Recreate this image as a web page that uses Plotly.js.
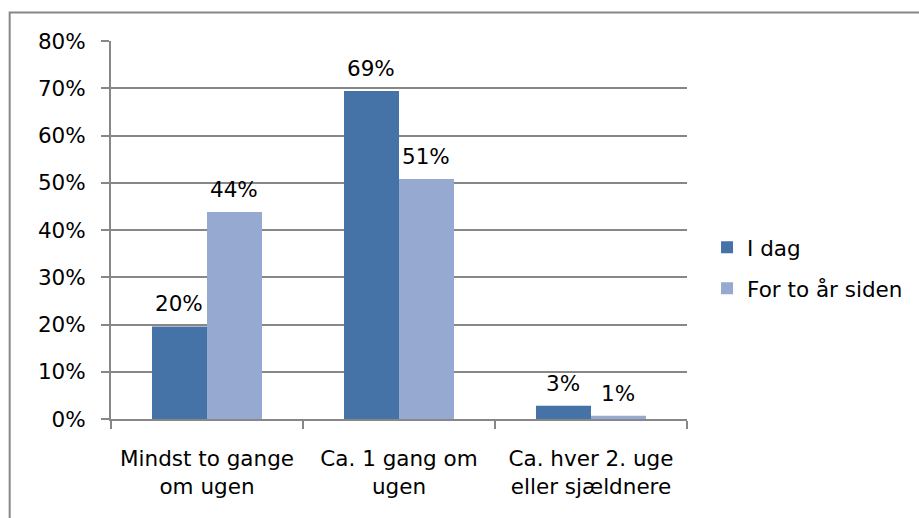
<!DOCTYPE html>
<html>
<head>
<meta charset="utf-8">
<script src="https://cdn.plot.ly/plotly-3.0.1.min.js"></script>
<style>html,body{margin:0;padding:0;background:#fff;}#chart{width:919px;height:518px;}</style>
</head>
<body>
<div id="chart"></div>
<script>
const categories = ["Mindst to gange<br>om ugen", "Ca. 1 gang om<br>ugen", "Ca. hver 2. uge<br>eller sjældnere"];
const seriesNames = ["I dag", "For to år siden"];
const iDag = [0.196, 0.694, 0.028];
const forToAar = [0.438, 0.508, 0.007];
const yTickVals = [0, 0.1, 0.2, 0.3, 0.4, 0.5, 0.6, 0.7, 0.8];
const colors = ["#4572A7", "#95A9D1"];

const font = {family: "DejaVu Sans, Verdana, sans-serif", size: 21.5, color: "#000"};
const seriesVals = [iDag, forToAar];

const traces = seriesVals.map((vals, i) => ({
  type: "bar",
  name: seriesNames[i],
  x: categories,
  y: vals,
  marker: {color: colors[i]},
  legendgroup: "g" + i,
  hoverinfo: "none"
}));

const annotations = [];
seriesVals.forEach((vals, i) => {
  vals.forEach((v, j) => {
    annotations.push({
      x: categories[j], y: v, xref: "x", yref: "y",
      text: Math.round(v * 100) + "%",
      showarrow: false, yanchor: "bottom",
      xshift: i === 0 ? -28 : 27, yshift: 8,
      font: font
    });
  });
});

const layout = {
  width: 919, height: 518,
  margin: {l: 111, r: 231, t: 41, b: 99, pad: 0},
  paper_bgcolor: "#fff", plot_bgcolor: "#fff",
  font: font,
  barmode: "group", bargap: 0.427, bargroupgap: 0,
  showlegend: true,
  legend: {x: 1.033, xanchor: "left", y: 0.40, yanchor: "middle", font: font,
           traceorder: "grouped", tracegroupgap: 10, bgcolor: "rgba(0,0,0,0)"},
  xaxis: {
    type: "category", tickson: "boundaries", ticks: "outside", ticklen: 8,
    tickcolor: "#878787", tickwidth: 2, showline: true, linecolor: "#878787", linewidth: 2,
    showgrid: false, ticklabelstandoff: 19, tickfont: font, fixedrange: true
  },
  yaxis: {
    range: [0, 0.8], tickvals: yTickVals, tickformat: ".0%",
    ticks: "outside", ticklen: 8, tickcolor: "#878787", tickwidth: 2,
    showline: true, linecolor: "#878787", linewidth: 2,
    showgrid: true, gridcolor: "#878787", gridwidth: 2,
    zeroline: false, ticklabelstandoff: 11, tickfont: font, fixedrange: true
  },
  annotations: annotations,
  shapes: [{
    type: "rect", xref: "paper", yref: "paper",
    x0: (9.5 - 111) / 577, x1: 1.5, y0: -0.4, y1: (419 - 12.5) / 378,
    line: {color: "#878787", width: 2}, fillcolor: "rgba(0,0,0,0)", layer: "below"
  }]
};

Plotly.newPlot("chart", traces, layout, {staticPlot: true, displayModeBar: false});
</script>
</body>
</html>
